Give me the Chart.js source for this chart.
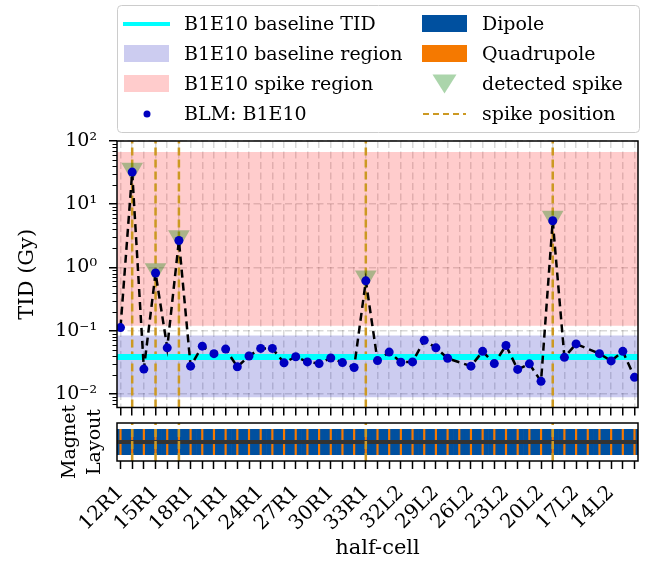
<!DOCTYPE html>
<html lang="en">
<head>
<meta charset="UTF-8">
<title>B1E10 TID per half-cell</title>
<style>
  body { margin: 0; background: #fff; }
  .wrap { position: relative; width: 651px; height: 561px; }
  #tidChart { position: absolute; left: 0; top: 0; }
  #layoutChart { position: absolute; left: 0; top: 390px; }
</style>
</head>
<body>
<div class="wrap">
  <canvas id="tidChart" width="651" height="420"></canvas>
  <canvas id="layoutChart" width="651" height="171"></canvas>
</div>
<script src="https://cdn.jsdelivr.net/npm/chart.js@4.4.0/dist/chart.umd.min.js"></script>
<script>
// half-cells of the arc, R1 side going up then L2 side going down
const halfCells = [
  '12R1', '13R1', '14R1', '15R1', '16R1', '17R1', '18R1', '19R1', '20R1', '21R1', '22R1', '23R1',
  '24R1', '25R1', '26R1', '27R1', '28R1', '29R1', '30R1', '31R1', '32R1', '33R1', '34R1',
  '33L2', '32L2', '31L2', '30L2', '29L2', '28L2', '27L2', '26L2', '25L2', '24L2', '23L2', '22L2',
  '21L2', '20L2', '19L2', '18L2', '17L2', '16L2', '15L2', '14L2', '13L2', '12L2'
];

// BLM B1E10 total ionising dose (Gy), null where there is no reading
const blmTid = [
  0.112, 32.2, 0.0247, 0.818, 0.0536, 2.67, 0.0275, 0.0569, 0.0433, 0.0512,
  0.0268, 0.0398, 0.0524, 0.0524, 0.031, 0.0388, 0.0321, 0.0302, 0.037, 0.0313,
  0.0262, 0.614, 0.0337, 0.0459, 0.0317, 0.0321, 0.0706, 0.0536, 0.0366, null,
  0.0275, 0.0471, 0.0302, 0.0583, 0.0244, 0.0299, 0.0158, 5.47, 0.0379, 0.0618,
  null, 0.0433, 0.0333, 0.0471, 0.0183
];

// detected spikes: half-cell index and marker level
const spikeIndex = [1, 3, 5, 21, 37];
const spikeMarkerTid = [36, 0.93, 3.1, 0.71, 6.3];

const baselineTid = 0.0384;
const baselineRegion = [0.00885, 0.0836];
const spikeRegion = [0.12, 67];
const yTickValues = [0.01, 0.1, 1, 10, 100];

const yMin = 0.0061, yMax = 100;
const xMin = -0.3, xMax = halfCells.length - 1 + 0.3;

const colors = {
  baseline: '#00ffff',
  baselineRegion: 'rgba(0, 0, 180, 0.2)',
  spikeRegion: 'rgba(255, 0, 0, 0.2)',
  blm: '#0000c0',
  dipole: '#00509f',
  quadrupole: '#f57900',
  spikeMarker: 'rgba(0, 128, 0, 0.33)',
  spikeLine: '#cc9922',
  grid: 'rgba(0, 0, 0, 0.15)'
};

const serif = '"DejaVu Serif", serif';
Chart.defaults.font.family = serif;
Chart.defaults.color = '#000';

const supMap = { '-': '\u207b', '0': '\u2070', '1': '\u00b9', '2': '\u00b2', '3': '\u00b3' };
const sup = n => String(n).split('').map(c => supMap[c]).join('');

const hLine = y => [{ x: -1, y }, { x: halfCells.length, y }];
const vLines = (lo, hi) => spikeIndex.flatMap(i => [{ x: i, y: lo }, { x: i, y: hi }, { x: i, y: null }]);
const halfCellTicks = s => { s.ticks = halfCells.map((_, i) => ({ value: i })); };

// keep the plot box fixed: no extra room for labels that overhang the ends
const fixSize = (w, h) => s => {
  if (w !== null) s.width = w;
  if (h !== null) s.height = h;
  s.paddingTop = s.paddingBottom = s.paddingLeft = s.paddingRight = 0;
};

// black box round the plotting area
const frame = {
  id: 'frame',
  afterDraw(chart) {
    const { ctx, chartArea: a } = chart;
    ctx.save();
    ctx.strokeStyle = '#000';
    ctx.lineWidth = 1.5;
    ctx.strokeRect(a.left, a.top, a.right - a.left, a.bottom - a.top);
    ctx.restore();
  }
};

// short minor ticks on the log axis
const minorTicks = {
  id: 'minorTicks',
  afterDraw(chart) {
    const y = chart.scales.y, ctx = chart.ctx;
    ctx.save();
    ctx.strokeStyle = '#000';
    ctx.lineWidth = 1;
    for (let e = -3; e <= 2; e++) {
      for (let m = 2; m <= 9; m++) {
        const v = m * Math.pow(10, e);
        if (v < y.min || v > y.max) continue;
        const p = Math.round(y.getPixelForValue(v)) + 0.5;
        ctx.beginPath();
        ctx.moveTo(y.right - 4.5, p);
        ctx.lineTo(y.right, p);
        ctx.stroke();
      }
    }
    ctx.restore();
  }
};

// two-column legend above the plot
const legendEntries = [
  { text: 'B1E10 baseline TID', col: 0, row: 0, draw: (c, x, y) => {
      c.strokeStyle = colors.baseline; c.lineWidth = 4;
      c.beginPath(); c.moveTo(x, y); c.lineTo(x + 47, y); c.stroke(); } },
  { text: 'B1E10 baseline region', col: 0, row: 1, draw: (c, x, y) => {
      c.fillStyle = colors.baselineRegion; c.fillRect(x + 1, y - 9, 45, 17); } },
  { text: 'B1E10 spike region', col: 0, row: 2, draw: (c, x, y) => {
      c.fillStyle = colors.spikeRegion; c.fillRect(x + 1, y - 9, 45, 17); } },
  { text: 'BLM: B1E10', col: 0, row: 3, draw: (c, x, y) => {
      c.fillStyle = colors.blm; c.beginPath(); c.arc(x + 24, y, 3.5, 0, Math.PI * 2); c.fill(); } },
  { text: 'Dipole', col: 1, row: 0, draw: (c, x, y) => {
      c.fillStyle = colors.dipole; c.fillRect(x, y - 9, 45, 17); } },
  { text: 'Quadrupole', col: 1, row: 1, draw: (c, x, y) => {
      c.fillStyle = colors.quadrupole; c.fillRect(x, y - 9, 45, 17); } },
  { text: 'detected spike', col: 1, row: 2, draw: (c, x, y) => {
      c.fillStyle = colors.spikeMarker; c.beginPath();
      c.moveTo(x + 10.5, y - 9.5); c.lineTo(x + 34.5, y - 9.5); c.lineTo(x + 22.5, y + 9.5);
      c.closePath(); c.fill(); } },
  { text: 'spike position', col: 1, row: 3, draw: (c, x, y) => {
      c.strokeStyle = colors.spikeLine; c.lineWidth = 2; c.setLineDash([6, 4]);
      c.beginPath(); c.moveTo(x + 1, y); c.lineTo(x + 44, y); c.stroke(); } }
];

const boxLegend = {
  id: 'boxLegend',
  afterDraw(chart) {
    const c = chart.ctx;
    const colX = [123, 422], textX = [184, 482], rowY = [24, 54, 84, 114];
    c.save();
    c.fillStyle = 'rgba(255,255,255,0.8)';
    c.strokeStyle = '#cccccc';
    c.lineWidth = 1;
    c.beginPath();
    c.roundRect(117.5, 5.5, 522, 127, 4);
    c.fill();
    c.stroke();
    legendEntries.forEach(e => {
      c.save();
      e.draw(c, colX[e.col], rowY[e.row]);
      c.restore();
      c.fillStyle = '#000';
      c.font = '19px ' + serif;
      c.textBaseline = 'middle';
      c.textAlign = 'left';
      c.fillText(e.text, textX[e.col], rowY[e.row] + 1);
    });
    c.restore();
  }
};

const gridOpts = {
  color: colors.grid, lineWidth: 1.5, offset: false,
  tickColor: '#000', tickWidth: 1.5, tickLength: 8, tickBorderDash: []
};

new Chart(document.getElementById('tidChart'), {
  type: 'line',
  data: {
    datasets: [
      { label: 'B1E10 spike region', data: hLine(spikeRegion[1]), fill: { value: spikeRegion[0] },
        backgroundColor: colors.spikeRegion, borderColor: 'transparent', borderWidth: 0,
        pointRadius: 0, clip: 0, order: 6 },
      { label: 'B1E10 baseline region', data: hLine(baselineRegion[1]), fill: { value: baselineRegion[0] },
        backgroundColor: colors.baselineRegion, borderColor: 'transparent', borderWidth: 0,
        pointRadius: 0, clip: 0, order: 5 },
      { label: 'spike position', data: vLines(yMin, yMax), borderColor: colors.spikeLine,
        borderWidth: 2.5, borderDash: [8, 4], pointRadius: 0, spanGaps: false, clip: 0, order: 4 },
      { label: 'detected spike', data: spikeIndex.map((i, k) => ({ x: i, y: spikeMarkerTid[k] })),
        showLine: false, pointStyle: 'triangle', rotation: 180, pointRadius: 12.5,
        pointBackgroundColor: colors.spikeMarker, pointBorderWidth: 0, order: 3 },
      { label: 'B1E10 baseline TID', data: hLine(baselineTid), borderColor: colors.baseline,
        borderWidth: 6, pointRadius: 0, clip: 0, order: 2 },
      { label: 'BLM: B1E10', data: blmTid.map((v, i) => ({ x: i, y: v })),
        borderColor: '#000', borderWidth: 2.5, borderDash: [8, 5],
        pointRadius: 4.5, pointBackgroundColor: colors.blm, pointBorderWidth: 0,
        spanGaps: true, order: 1 }
    ]
  },
  options: {
    responsive: false,
    animation: false,
    layout: { padding: { top: 141, right: 13, left: 0, bottom: 0 } },
    plugins: { legend: { display: false }, tooltip: { enabled: false } },
    scales: {
      x: {
        type: 'linear', min: xMin, max: xMax, offset: false,
        afterBuildTicks: halfCellTicks,
        afterFit: fixSize(null, 8),
        ticks: { autoSkip: false, maxRotation: 0, callback: () => '' },
        grid: gridOpts,
        border: { display: false, dash: [7, 3.5] }
      },
      y: {
        type: 'logarithmic', min: yMin, max: yMax,
        afterBuildTicks: s => { s.ticks = yTickValues.map(v => ({ value: v })); },
        afterFit: fixSize(117, null),
        ticks: { autoSkip: false, padding: 12, font: { size: 19 },
          callback: v => '10' + sup(Math.round(Math.log10(v))) },
        grid: gridOpts,
        border: { display: false, dash: [7, 3.5] },
        title: { display: true, text: 'TID (Gy)', font: { size: 21 }, padding: { top: 15, bottom: 0 } }
      }
    }
  },
  plugins: [frame, minorTicks, boxLegend]
});

// magnet layout strip: dipoles with a quadrupole in each half-cell
const magnetExtent = [-1, 1];

new Chart(document.getElementById('layoutChart'), {
  type: 'bar',
  data: {
    datasets: [
      { type: 'line', label: 'spike position', data: vLines(-1.5, 1.5), borderColor: colors.spikeLine,
        borderWidth: 2.5, borderDash: [8, 4], pointRadius: 0, spanGaps: false, clip: 0, order: 1 },
      { type: 'line', label: 'beam line', data: hLine(0), borderColor: '#333333',
        borderWidth: 4, pointRadius: 0, clip: 0, order: 2 },
      { label: 'Quadrupole', data: halfCells.map((_, i) => ({ x: i, y: magnetExtent })),
        backgroundColor: colors.quadrupole, barThickness: 1.5, grouped: false, clip: 0, order: 3 },
      { label: 'Dipole', data: halfCells.map((_, i) => ({ x: i, y: magnetExtent })),
        backgroundColor: colors.dipole, barPercentage: 1, categoryPercentage: 1,
        grouped: false, clip: 0, order: 4 }
    ]
  },
  options: {
    responsive: false,
    animation: false,
    layout: { padding: { top: 33, right: 13, left: 0, bottom: 0 } },
    plugins: { legend: { display: false }, tooltip: { enabled: false } },
    scales: {
      x: {
        type: 'linear', min: xMin, max: xMax, offset: false,
        afterBuildTicks: halfCellTicks,
        afterFit: fixSize(null, 100),
        ticks: { autoSkip: false, minRotation: 45, maxRotation: 45, padding: 12, font: { size: 20 },
          callback: (v, i) => (i % 3 === 0 ? halfCells[v] : '') },
        grid: { drawOnChartArea: false, offset: false, tickColor: '#000', tickWidth: 1.5, tickLength: 8 },
        border: { display: false },
        title: { display: true, text: 'half-cell', font: { size: 21 }, padding: { top: 0, bottom: 0 } }
      },
      y: {
        min: -1.5, max: 1.5,
        afterFit: fixSize(117, null),
        ticks: { display: false },
        grid: { display: false },
        border: { display: false },
        title: { display: true, text: ['Magnet', 'Layout'], font: { size: 19, lineHeight: 1.35 },
          padding: { top: 57, bottom: 0 } }
      }
    }
  },
  plugins: [frame]
});
</script>
</body>
</html>
